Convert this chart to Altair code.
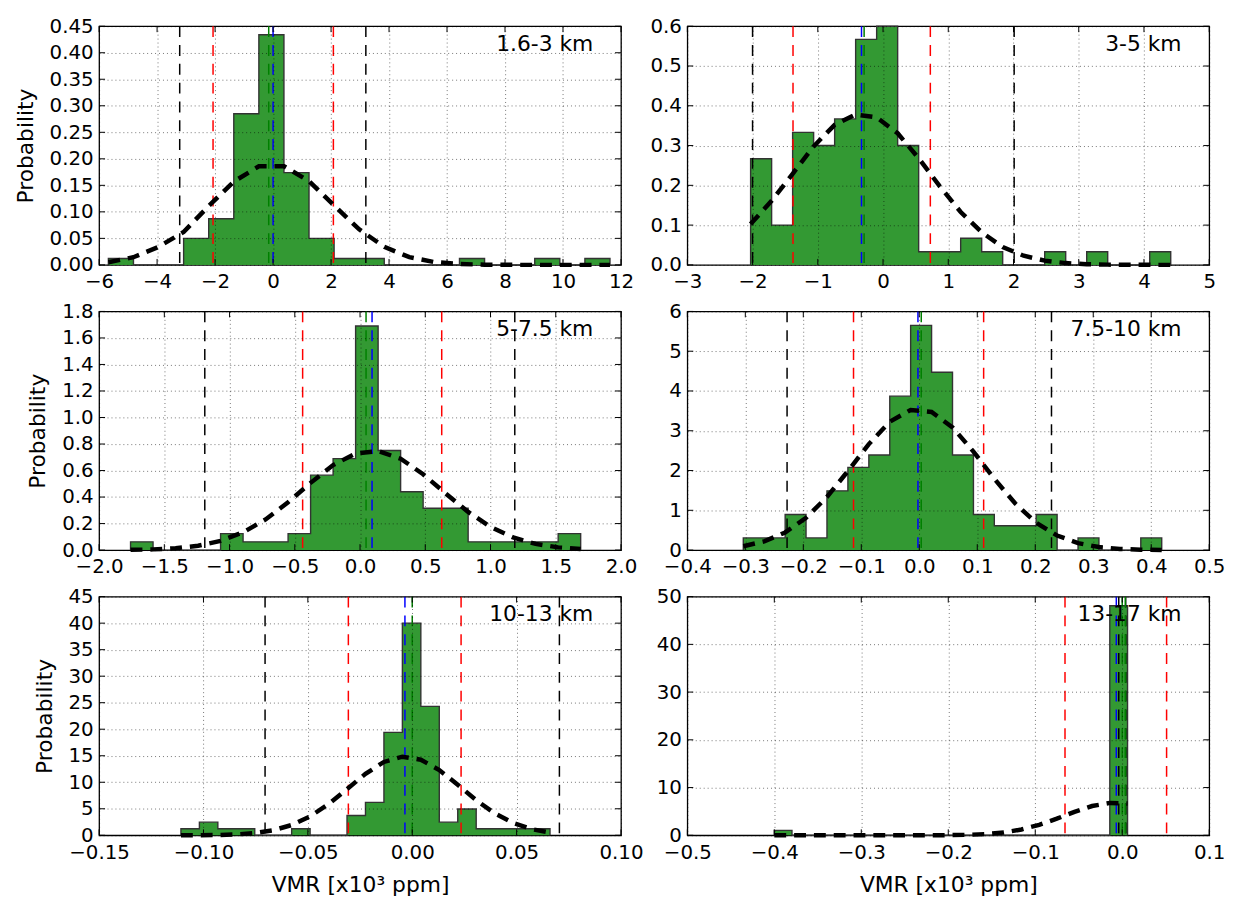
import altair as alt
import pandas as pd

# ---------------- data ----------------
LABELS = ["1.6-3 km", "3-5 km", "5-7.5 km", "7.5-10 km", "10-13 km", "13-17 km"]

EDGES_1 = [-5.68, -4.815, -3.95, -3.085, -2.22, -1.355, -0.49, 0.375, 1.24, 2.105, 2.97,
           3.835, 4.70, 5.565, 6.43, 7.295, 8.16, 9.025, 9.89, 10.755, 11.62]
HIST_1 = [0.012, 0, 0, 0.05, 0.087, 0.285, 0.434, 0.174, 0.05, 0.012,
          0.012, 0, 0, 0, 0.012, 0, 0, 0.012, 0, 0.012]
GAUSS_1 = [0.005, 0.0145, 0.034, 0.062, 0.111, 0.157, 0.186, 0.186, 0.158, 0.112, 0.067,
           0.034, 0.0146, 0.0053, 0.0016, 0.0004, 0.0001, 0.0, 0.0, 0.0, 0.0]

EDGES_2 = [-2.03, -1.708, -1.386, -1.064, -0.742, -0.42, -0.098, 0.224, 0.546, 0.868, 1.19,
           1.512, 1.834, 2.156, 2.478, 2.80, 3.122, 3.444, 3.766, 4.088, 4.41]
HIST_2 = [0.267, 0.1, 0.333, 0.3, 0.367, 0.567, 0.6, 0.3, 0.033, 0.033,
          0.067, 0.033, 0, 0, 0.033, 0, 0.033, 0, 0, 0.033]
GAUSS_2 = [0.103, 0.161, 0.229, 0.298, 0.352, 0.378, 0.371, 0.331, 0.268, 0.198, 0.133,
           0.082, 0.045, 0.023, 0.0106, 0.0045, 0.0017, 0.0006, 0.0002, 0.0001, 0.0]

EDGES_3 = [-1.759, -1.5865, -1.414, -1.2415, -1.069, -0.8965, -0.724, -0.5515, -0.379, -0.2065,
           -0.034, 0.1385, 0.311, 0.4835, 0.656, 0.8285, 1.001, 1.1735, 1.346, 1.5185, 1.691]
HIST_3 = [0.062, 0, 0, 0, 0.124, 0.062, 0.062, 0.124, 0.565, 0.69,
          1.69, 0.751, 0.44, 0.316, 0.316, 0.062, 0.062, 0.062, 0.062, 0.124]
GAUSS_3 = [0.0018, 0.0052, 0.0137, 0.0324, 0.0694, 0.134, 0.231, 0.361, 0.507, 0.641, 0.729,
           0.747, 0.689, 0.572, 0.4275, 0.288, 0.174, 0.095, 0.0466, 0.0206, 0.0082]

EDGES_4 = [-0.3035, -0.2674, -0.2313, -0.1953, -0.1592, -0.1231, -0.087, -0.0509, -0.0149, 0.0212,
           0.0573, 0.0934, 0.1294, 0.1655, 0.2016, 0.2377, 0.2738, 0.3098, 0.3459, 0.382, 0.4181]
HIST_4 = [0.307, 0.307, 0.895, 0.307, 1.49, 2.08, 2.39, 3.87, 5.65, 4.47,
          2.39, 0.895, 0.613, 0.613, 0.895, 0, 0.307, 0, 0, 0.307]
GAUSS_4 = [0.0976, 0.2195, 0.444, 0.811, 1.336, 1.986, 2.665, 3.226, 3.523, 3.471, 3.086,
           2.475, 1.793, 1.170, 0.689, 0.366, 0.1756, 0.0761, 0.0297, 0.0105, 0.0033]

EDGES_5 = [-0.1108, -0.10196, -0.09312, -0.08428, -0.07544, -0.0666, -0.05776, -0.04892, -0.04008,
           -0.03124, -0.0224, -0.01356, -0.00472, 0.00412, 0.01296, 0.0218, 0.03064, 0.03948,
           0.04832, 0.05716, 0.066]
HIST_5 = [1.24, 2.48, 1.24, 1.24, 0, 0, 1.24, 0, 0, 3.72,
          6.2, 19.4, 40.0, 24.3, 2.48, 4.96, 1.24, 1.24, 1.24, 1.24]
GAUSS_5 = [0.0052, 0.0183, 0.0575, 0.163, 0.415, 0.946, 1.938, 3.564, 5.882, 8.714, 11.587,
           13.83, 14.815, 14.247, 12.30, 9.528, 6.628, 4.138, 2.318, 1.166, 0.526]

EDGES_6 = [-0.4, -0.3797, -0.3594, -0.3391, -0.3188, -0.2985, -0.2782, -0.2579, -0.2376, -0.2173,
           -0.197, -0.1767, -0.1564, -0.1361, -0.1158, -0.0955, -0.0752, -0.0549, -0.0346,
           -0.0143, 0.0061]
HIST_6 = [1.03, 0, 0, 0, 0, 0, 0, 0, 0, 0,
          0, 0, 0, 0, 0, 0, 0, 0, 0, 48.1]
GAUSS_6 = [0.0, 0.0, 0.0, 0.0, 0.0, 0.0, 0.0002, 0.0007, 0.0029, 0.0107, 0.0351,
           0.1022, 0.263, 0.601, 1.218, 2.19, 3.48, 4.90, 6.13, 6.78, 6.65]

BLACK_LINES = [[-3.22, 3.2], [-2.0, 2.01], [-1.19, 1.186], [-0.228, 0.228],
               [-0.0705, 0.0705], [-0.004, 0.004]]
RED_LINES = [[-2.07, 2.08], [-1.38, 0.725], [-0.44, 0.626], [-0.1134, 0.111],
             [-0.0306, 0.0234], [-0.0658, 0.051]]
BLUE_LINES = [[0.0], [-0.33], [0.092], [-0.0023], [-0.0035], [-0.0068]]
GREEN_LINES = [[-0.15], [-0.29], [0.046], [0.0034], [0.0], [0.0, 0.0035]]

X_TICKS = [[-6, -4, -2, 0, 2, 4, 6, 8, 10, 12],
           [-3, -2, -1, 0, 1, 2, 3, 4, 5],
           [-2.0, -1.5, -1.0, -0.5, 0.0, 0.5, 1.0, 1.5, 2.0],
           [-0.4, -0.3, -0.2, -0.1, 0.0, 0.1, 0.2, 0.3, 0.4, 0.5],
           [-0.15, -0.10, -0.05, 0.0, 0.05, 0.10],
           [-0.5, -0.4, -0.3, -0.2, -0.1, 0.0, 0.1]]
Y_TICKS = [[0.0, 0.05, 0.10, 0.15, 0.20, 0.25, 0.30, 0.35, 0.40, 0.45],
           [0.0, 0.1, 0.2, 0.3, 0.4, 0.5, 0.6],
           [0.0, 0.2, 0.4, 0.6, 0.8, 1.0, 1.2, 1.4, 1.6, 1.8],
           [0, 1, 2, 3, 4, 5, 6],
           [0, 5, 10, 15, 20, 25, 30, 35, 40, 45],
           [0, 10, 20, 30, 40, 50]]
X_FORMATS = ["d", "d", ".1f", ".1f", ".2f", ".1f"]
Y_FORMATS = [".2f", ".1f", ".1f", "d", "d", "d"]
X_TITLE = "VMR [x10³ ppm]"
Y_TITLE = "Probability"

EDGES = [EDGES_1, EDGES_2, EDGES_3, EDGES_4, EDGES_5, EDGES_6]
HISTS = [HIST_1, HIST_2, HIST_3, HIST_4, HIST_5, HIST_6]
GAUSSES = [GAUSS_1, GAUSS_2, GAUSS_3, GAUSS_4, GAUSS_5, GAUSS_6]

# ---------------- styling ----------------
W, H = 527, 241
FONT = "DejaVu Sans"
TICK = 6
FILL = "#339933"
EDGE = "#333333"


def panel(i, ytitle, xtitle):
    e, h, g = EDGES[i], HISTS[i], GAUSSES[i]
    xs = alt.Scale(domain=[X_TICKS[i][0], X_TICKS[i][-1]], nice=False, zero=False)
    ys = alt.Scale(domain=[Y_TICKS[i][0], Y_TICKS[i][-1]], nice=False, zero=False)
    xaxis = alt.Axis(values=X_TICKS[i], format=X_FORMATS[i], title=xtitle, zindex=1)
    yaxis = alt.Axis(values=Y_TICKS[i], format=Y_FORMATS[i], title=ytitle, zindex=1)

    fill_df = pd.DataFrame({"px": e, "py": h + [h[-1]]})
    area = alt.Chart(fill_df).mark_area(interpolate="step-after", color=FILL, opacity=1).encode(
        x=alt.X("px:Q", scale=xs, axis=xaxis),
        y=alt.Y("py:Q", scale=ys, axis=yaxis),
    )
    out_df = pd.DataFrame({"px": [e[0]] + e[:-1] + [e[-1]],
                           "py": [0] + h + [0],
                           "o": list(range(len(h) + 2))})
    outline = alt.Chart(out_df).mark_line(interpolate="step-after", color=EDGE,
                                          strokeWidth=1.4).encode(
        x=alt.X("px:Q", scale=xs, axis=xaxis),
        y=alt.Y("py:Q", scale=ys, axis=yaxis),
        order="o:Q",
    )

    layers = [area, outline]
    for vals, col in [(BLACK_LINES[i], "black"), (RED_LINES[i], "#ff0000"),
                      (GREEN_LINES[i], "#008000"), (BLUE_LINES[i], "#0000ff")]:
        layers.append(
            alt.Chart(pd.DataFrame({"px": vals})).mark_rule(
                color=col, strokeWidth=1.5, strokeDash=[11, 8]).encode(
                x=alt.X("px:Q", scale=xs, axis=xaxis))
        )

    gdf = pd.DataFrame({"px": e, "py": g})
    layers.append(
        alt.Chart(gdf).mark_line(color="black", strokeWidth=4.5, strokeDash=[12, 8]).encode(
            x=alt.X("px:Q", scale=xs, axis=xaxis),
            y=alt.Y("py:Q", scale=ys, axis=yaxis))
    )

    xt = pd.DataFrame({"px": X_TICKS[i]})
    yt = pd.DataFrame({"py": Y_TICKS[i]})
    layers += [
        alt.Chart(xt).mark_rule(color="black", strokeWidth=1).encode(
            x=alt.X("px:Q", scale=xs, axis=xaxis), y=alt.value(0), y2=alt.value(TICK)),
        alt.Chart(xt).mark_rule(color="black", strokeWidth=1).encode(
            x=alt.X("px:Q", scale=xs, axis=xaxis), y=alt.value(H), y2=alt.value(H - TICK)),
        alt.Chart(yt).mark_rule(color="black", strokeWidth=1).encode(
            y=alt.Y("py:Q", scale=ys, axis=yaxis), x=alt.value(0), x2=alt.value(TICK)),
        alt.Chart(yt).mark_rule(color="black", strokeWidth=1).encode(
            y=alt.Y("py:Q", scale=ys, axis=yaxis), x=alt.value(W), x2=alt.value(W - TICK)),
    ]

    layers.append(
        alt.Chart(pd.DataFrame({"t": [LABELS[i]]})).mark_text(
            align="right", baseline="alphabetic", fontSize=22, color="black").encode(
            x=alt.value(W - 28), y=alt.value(25), text="t:N")
    )
    return alt.layer(*layers).properties(width=W, height=H)


panels = []
for r in range(3):
    panels.append(panel(2 * r, Y_TITLE, X_TITLE if r == 2 else ""))
    panels.append(panel(2 * r + 1, "", X_TITLE if r == 2 else ""))

chart = alt.concat(*panels, columns=2, spacing={"row": 47, "column": 67},
                   bounds="flush").properties(
    padding={"left": 5, "top": 3, "right": 5, "bottom": 5}
).configure_view(
    stroke="black", strokeWidth=1.3
).configure_axis(
    labelFont=FONT, titleFont=FONT, labelFontSize=20, titleFontSize=22,
    titleFontWeight="normal", labelColor="black", titleColor="black",
    grid=True, gridDash=[1, 3], gridColor="black", gridOpacity=0.6, gridWidth=0.9,
    ticks=False, domain=False, labelFlush=False, labelOverlap=False
).configure_axisX(
    labelPadding=7, titlePadding=13
).configure_axisY(
    labelPadding=6, titlePadding=12
).configure_text(font=FONT)

chart.save("out.html", embed_options={"renderer": "svg", "actions": False})
